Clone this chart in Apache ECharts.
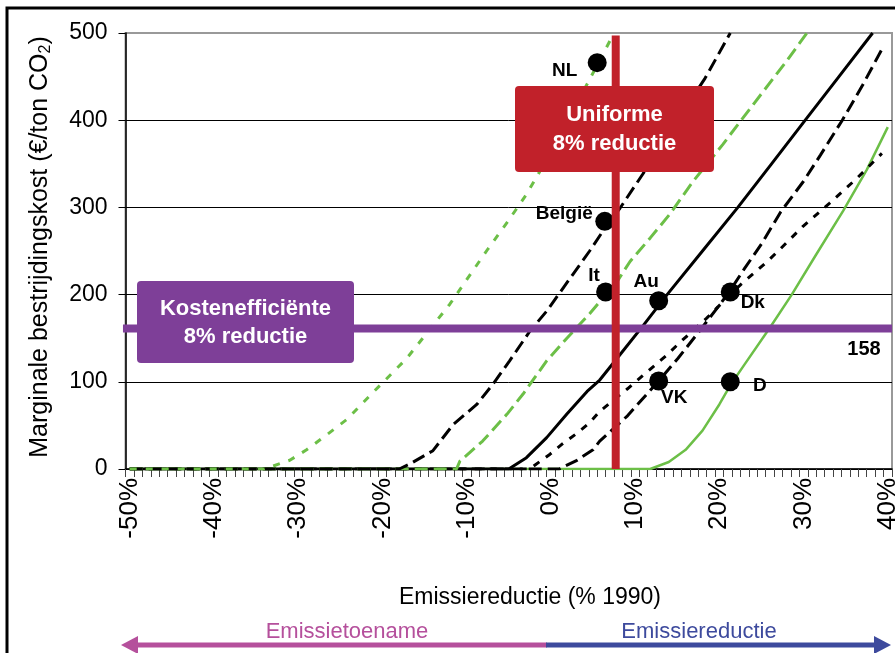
<!DOCTYPE html>
<html><head><meta charset="utf-8">
<script src="https://cdn.jsdelivr.net/npm/echarts@6/dist/echarts.min.js"></script>
<style>html,body{margin:0;padding:0;background:#fff}#c{width:895px;height:653px}</style>
</head><body><div id="c"></div><script>
// ---- data (x = emissiereductie %, y = €/ton CO2) ----
const xTickLabels = Array.from({length: 91}, (_, i) => (i - 50) + '%');
const yTicks = [0, 100, 200, 300, 400, 500];

const nlCurve      = [[-50,0],[-34,0],[-31,10],[-29,22],[-26.5,40],[-24.2,57],[-21.3,86],[-17.1,127],[-12,189],[-7.5,252],[-5.1,284],[-2.9,315],[-1.5,338],[2,400],[5.5,463],[7.5,500]];
const belgieCurve  = [[-50,0],[-18,0],[-16.7,6],[-14,21],[-11.6,51],[-8.8,74],[-6.9,97],[-4.9,124],[-2.5,158],[-0.5,181],[2.6,223],[4.6,250],[6.4,276],[8.2,299],[10.9,338],[14.5,392],[18.3,448],[21.3,500]];
const itCurve      = [[-50,0],[-11.2,0],[-10.8,9],[-8.1,32],[-5.2,63],[-3.3,86],[-0.5,124],[1.9,150],[4.6,178],[6.5,200],[7.8,214],[9.4,238],[11.8,265],[14.1,292],[16.9,330],[20.4,372],[22.2,395],[28,468],[30.4,500]];
const auCurve      = [[-50,0],[-5,0],[-2.9,13],[-0.5,36],[1.9,63],[4.3,89],[5.8,102],[8.2,131],[11,165],[13.8,200],[18,250],[22.2,300],[26.2,350],[30.2,400],[34.2,450],[38.2,500]];
const dkCurve      = [[-50,0],[-2.5,0],[-2.1,3],[-0.1,17],[1.4,29],[3.1,41],[4.6,53],[5.8,66],[9.1,92],[10.9,107],[13.8,131],[15.3,145],[18.5,173],[21.3,200],[22.6,212],[25.7,238],[27.2,252],[29.9,278],[33.1,305],[36.3,333],[39.3,362]];
const vkCurve      = [[-50,0],[1,0],[3.1,10],[5,22],[5.8,32],[9.1,61],[11.4,86],[12.8,101],[15.1,127],[17.3,154],[20.1,189],[21.3,205],[23,230],[25,258],[27.3,295],[30,330],[32,360],[34.6,400],[37,440],[39.5,485]];
const dCurve       = [[-50,0],[11.8,0],[14,8],[16,22],[18,44],[20,74],[21.3,96],[23,120],[26,162],[28.6,200],[31.5,246],[34.7,296],[37.5,343],[40,392]];

const countryNames  = ['NL', 'België', 'It', 'Au', 'Dk', 'VK', 'D'];
const countryX      = [5.5, 6.4, 6.5, 12.8, 21.3, 12.8, 21.3];
const countryY      = [466, 284, 203, 193, 203, 101, 100];

const uniformReduction = 7.7;     // vertical red line position (8% uniforme reductie)
const uniformTop = 497;
const costEffPriceDrawn = 161;    // horizontal purple line as drawn
const costEffPriceLabel = '158';

// ---- styling ----
const FONT = '"Liberation Sans", Arial, Helvetica, sans-serif';
const GREEN = '#6cbf47', BLACK = '#000', RED = '#c1212a', PURPLE = '#7e3f98';
const labelOffsets = [[-23,18],[-31,2],[-2,-7],[-3,-9],[32,20],[25,26],[39,13]];

function curve(data, color, type, width) {
  return { type: 'line', xAxisIndex: 1, data: data, symbol: 'none', z: 2,
    lineStyle: { color: color, width: width, type: type, cap: 'butt' }, silent: true };
}

const chart = echarts.init(document.getElementById('c'), null, { renderer: 'canvas' });
chart.setOption({
  animation: false,
  grid: { left: 125.5, right: 3, top: 33, bottom: 184, show: true, borderColor: '#999', borderWidth: 2,
          containLabel: false, outerBoundsMode: 'none' },
  xAxis: [
    { type: 'category', data: xTickLabels, boundaryGap: true,
      axisLine: { onZero: false, lineStyle: { color: '#000', width: 1.5 } },
      axisTick: { show: true, interval: 0, length: 8, lineStyle: { color: '#444', width: 1 } },
      axisLabel: { interval: 9, rotate: 90, fontSize: 26, color: '#000', margin: 9, fontFamily: FONT },
      splitLine: { show: false } },
    { type: 'value', min: -50.5, max: 40.5, show: false }
  ],
  yAxis: { type: 'value', min: yTicks[0], max: yTicks[yTicks.length-1], interval: 100,
    axisLine: { show: true, onZero: false, lineStyle: { color: '#000', width: 1.5 } },
    axisTick: { show: true, length: 7, lineStyle: { color: '#000' } },
    axisLabel: { fontSize: 23, color: '#000', margin: 18, fontFamily: FONT },
    splitLine: { show: true, lineStyle: { color: ['#000','#000','#000','#000','#000','#999'], width: 1 } } },
  series: [
    curve(dCurve, GREEN, 'solid', 2.5),
    curve(dkCurve, BLACK, [7, 8], 3),
    curve(vkCurve, BLACK, [13, 6], 3),
    curve(auCurve, BLACK, 'solid', 3),
    curve(itCurve, GREEN, [13, 6], 3),
    curve(belgieCurve, BLACK, [13, 6], 3),
    curve(nlCurve, GREEN, [7, 9], 3),
    { type: 'line', xAxisIndex: 1, symbol: 'none', z: 3, silent: true,
      data: [[-50.8, costEffPriceDrawn], [40.5, costEffPriceDrawn]],
      lineStyle: { color: PURPLE, width: 8, cap: 'butt' } },
    { type: 'scatter', xAxisIndex: 1, z: 4, symbolSize: 19, silent: true,
      itemStyle: { color: '#000', opacity: 1 },
      label: { show: true, formatter: '{b}', fontWeight: 'bold', fontSize: 19, color: '#000', fontFamily: FONT,
               align: 'center', verticalAlign: 'middle', opacity: 1 },
      data: countryNames.map((n, i) => ({ name: n, value: [countryX[i], countryY[i]],
               label: { position: labelOffsets[i] } })) },
    { type: 'line', xAxisIndex: 1, symbol: 'none', z: 5, silent: true,
      data: [[uniformReduction, 0], [uniformReduction, uniformTop]],
      lineStyle: { color: RED, width: 8, cap: 'butt' } }
  ],
  graphic: [
    { type: 'rect', z: 1, silent: true, shape: { x: 7, y: 8, width: 900, height: 700 },
      style: { fill: 'none', stroke: '#000', lineWidth: 3 } },
    { type: 'rect', z: 10, shape: { x: 515, y: 86, width: 199, height: 86, r: 4 }, style: { fill: RED } },
    { type: 'text', z: 11, x: 614.5, y: 129.5, style: { text: 'Uniforme\n8% reductie', fill: '#fff',
      font: 'bold 22px ' + FONT, textAlign: 'center', textVerticalAlign: 'middle', lineHeight: 29 } },
    { type: 'rect', z: 10, shape: { x: 137, y: 281, width: 217, height: 82, r: 4 }, style: { fill: PURPLE } },
    { type: 'text', z: 11, x: 245.5, y: 323, style: { text: 'Kostenefficiënte\n8% reductie', fill: '#fff',
      font: 'bold 22px ' + FONT, textAlign: 'center', textVerticalAlign: 'middle', lineHeight: 28 } },
    { type: 'text', z: 11, x: 864, y: 349, style: { text: costEffPriceLabel, fill: '#000',
      font: 'bold 20px ' + FONT, textAlign: 'center', textVerticalAlign: 'middle' } },
    { type: 'text', z: 11, x: 530, y: 598, style: { text: 'Emissiereductie (% 1990)', fill: '#000',
      font: '23px ' + FONT, textAlign: 'center', textVerticalAlign: 'middle' } },
    { type: 'text', z: 11, x: 347, y: 632, style: { text: 'Emissietoename', fill: '#b5509c',
      font: '22px ' + FONT, textAlign: 'center', textVerticalAlign: 'middle' } },
    { type: 'text', z: 11, x: 699, y: 632, style: { text: 'Emissiereductie', fill: '#3d4a9d',
      font: '22px ' + FONT, textAlign: 'center', textVerticalAlign: 'middle' } },
    { type: 'text', z: 11, x: 40, y: 247, rotation: Math.PI / 2,
      style: { text: '{a|Marginale bestrijdingskost (€/ton CO}{s|2}{a|)}', textAlign: 'center', textVerticalAlign: 'middle',
        rich: { a: { fontSize: 25, fontFamily: FONT, fill: '#000', lineHeight: 28 },
                s: { fontSize: 16, fontFamily: FONT, fill: '#000', lineHeight: 16, verticalAlign: 'bottom' } } } },
    { type: 'line', z: 11, shape: { x1: 134, y1: 645, x2: 547, y2: 645 }, style: { stroke: '#b5509c', lineWidth: 5 } },
    { type: 'line', z: 11, shape: { x1: 546, y1: 645, x2: 880, y2: 645 }, style: { stroke: '#3d4a9d', lineWidth: 5 } },
    { type: 'polygon', z: 11, shape: { points: [[121,645],[138,636],[138,654]] }, style: { fill: '#b5509c' } },
    { type: 'polygon', z: 11, shape: { points: [[891,645],[874,636],[874,654]] }, style: { fill: '#3d4a9d' } }
  ]
});
</script></body></html>
